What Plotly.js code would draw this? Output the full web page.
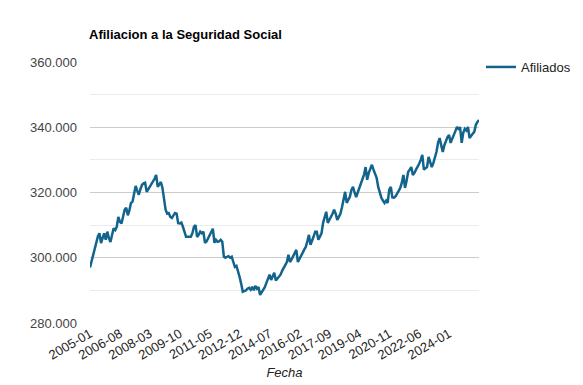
<!DOCTYPE html>
<html>
<head>
<meta charset="utf-8">
<script src="https://cdn.plot.ly/plotly-3.0.1.min.js"></script>
<style>html,body{margin:0;padding:0;background:#fff;}#chart{width:583px;height:385px;}</style>
</head>
<body>
<div id="chart"></div>
<script>
// Monthly affiliation values (thousands), 2005-01 .. 2025-08
const startYear = 2005;
const v2005 = [297.0, 299.0, 301.0, 302.5, 305.0, 306.5, 307.5, 304.5, 306.0, 307.5, 305.5, 308.0];
const v2006 = [306.0, 304.8, 307.0, 309.0, 308.5, 309.5, 312.5, 311.0, 310.5, 313.0, 314.7, 315.3];
const v2007 = [313.0, 314.5, 316.8, 317.2, 319.5, 322.0, 320.5, 319.3, 321.0, 322.3, 322.8, 323.0];
const v2008 = [320.2, 321.0, 322.0, 322.8, 323.2, 324.2, 325.4, 321.7, 322.5, 323.2, 321.4, 318.0];
const v2009 = [314.7, 313.5, 313.7, 312.5, 312.2, 313.0, 313.7, 313.5, 310.6, 310.5, 310.8, 309.5];
const v2010 = [307.5, 306.4, 306.4, 306.5, 306.4, 307.5, 309.5, 310.0, 306.4, 307.0, 308.0, 307.5];
const v2011 = [308.0, 304.6, 305.0, 306.0, 307.0, 307.8, 308.9, 304.6, 305.5, 304.9, 305.0, 305.5];
const v2012 = [304.9, 300.3, 300.0, 300.3, 300.5, 300.0, 300.3, 298.7, 297.2, 297.5, 296.0, 294.1];
const v2013 = [292.0, 289.6, 289.8, 290.0, 290.5, 290.8, 290.2, 291.1, 290.0, 291.4, 290.5, 291.0];
const v2014 = [288.6, 289.5, 290.0, 291.0, 292.3, 293.5, 294.8, 293.2, 294.5, 295.4, 293.0, 293.5];
const v2015 = [294.0, 294.8, 296.0, 296.9, 298.0, 298.7, 300.9, 298.7, 299.5, 300.5, 301.5, 302.4];
const v2016 = [298.7, 299.5, 300.5, 301.5, 302.5, 303.3, 305.0, 307.0, 304.0, 305.0, 306.5, 308.0];
const v2017 = [308.0, 305.5, 306.5, 307.5, 310.7, 312.5, 314.1, 310.7, 311.5, 312.5, 313.5, 314.7];
const v2018 = [313.5, 311.6, 312.5, 313.5, 315.5, 317.8, 320.2, 316.8, 318.0, 318.7, 320.8, 321.7];
const v2019 = [320.0, 318.6, 320.0, 321.4, 322.5, 323.9, 325.5, 327.8, 323.9, 326.0, 327.0, 328.5];
const v2020 = [327.0, 325.5, 324.5, 321.7, 320.0, 318.4, 317.5, 316.8, 317.5, 316.8, 320.8, 321.7];
const v2021 = [318.5, 318.4, 318.8, 319.5, 320.5, 321.4, 323.0, 325.4, 321.4, 323.5, 326.3, 327.0];
const v2022 = [327.8, 325.4, 326.0, 327.0, 327.8, 328.8, 330.0, 331.5, 327.0, 327.5, 327.8, 330.9];
const v2023 = [329.5, 327.8, 329.0, 330.5, 332.5, 335.2, 336.7, 334.5, 332.4, 334.5, 336.1, 337.0];
const v2024 = [337.6, 335.2, 336.5, 337.5, 338.8, 340.1, 339.5, 340.0, 335.2, 338.3, 339.5, 339.0];
const v2025 = [340.1, 336.7, 337.5, 338.0, 338.6, 340.7, 341.6, 342.2];

const yearly = [v2005, v2006, v2007, v2008, v2009, v2010, v2011, v2012, v2013, v2014, v2015,
                v2016, v2017, v2018, v2019, v2020, v2021, v2022, v2023, v2024, v2025];

const tickLabels = ['2005-01','2006-08','2008-03','2009-10','2011-05','2012-12','2014-07',
                    '2016-02','2017-09','2019-04','2020-11','2022-06','2024-01'];
const yTicks = [280000, 300000, 320000, 340000, 360000];

const fechas = [];
const afiliados = [];
yearly.forEach((arr, yi) => {
  arr.forEach((v, mi) => {
    fechas.push((startYear + yi) + '-' + String(mi + 1).padStart(2, '0'));
    afiliados.push(Math.round(v * 1000));
  });
});

const trace = {
  x: fechas,
  y: afiliados,
  type: 'scatter',
  mode: 'lines',
  name: 'Afiliados',
  line: {color: '#13648d', width: 2.5}
};

const layout = {
  width: 583,
  height: 385,
  margin: {l: 90, r: 104, t: 62, b: 62},
  paper_bgcolor: '#ffffff',
  plot_bgcolor: '#ffffff',
  separators: ',.',
  font: {family: 'Liberation Sans, Arial, sans-serif', size: 13, color: '#222222'},
  title: {
    text: '<b>Afiliacion a la Seguridad Social</b>',
    font: {family: 'Liberation Sans, Arial, sans-serif', size: 13, color: '#000000'},
    xref: 'container', x: 89 / 583, xanchor: 'left',
    yref: 'container', y: 1 - 34 / 385, yanchor: 'middle'
  },
  xaxis: {
    type: 'category',
    range: [0, fechas.length - 1],
    tickmode: 'array',
    tickvals: tickLabels,
    ticktext: tickLabels,
    tickangle: -30,
    showgrid: false,
    showline: false,
    zeroline: false,
    ticks: '',
    tickfont: {size: 13, color: '#222222'},
    title: {text: '<i>Fecha</i>', font: {size: 13, color: '#222222'}, standoff: 6}
  },
  yaxis: {
    range: [280000, 360000],
    tickmode: 'array',
    tickvals: yTicks,
    tickformat: ',d',
    showgrid: true,
    gridcolor: '#cccccc',
    gridwidth: 1,
    zeroline: false,
    showline: false,
    ticks: '',
    ticklabelstandoff: 12,
    tickfont: {size: 13, color: '#444444'},
    minor: {dtick: 10000, tick0: 280000, showgrid: true, gridcolor: '#ebebeb', gridwidth: 1}
  },
  showlegend: true,
  legend: {
    xref: 'container', x: 481 / 583, xanchor: 'left',
    yref: 'container', y: 1 - 52 / 385, yanchor: 'top',
    font: {size: 13, color: '#222222'},
    bgcolor: 'rgba(0,0,0,0)'
  }
};

Plotly.newPlot('chart', [trace], layout, {displayModeBar: false, staticPlot: true});
</script>
</body>
</html>
